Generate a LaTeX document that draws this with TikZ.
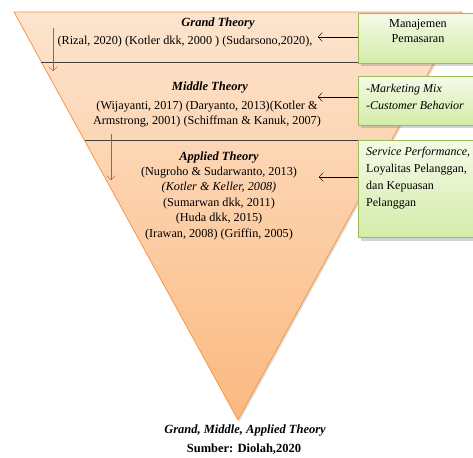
\documentclass[tikz,border=0pt]{standalone}
\usepackage{fontspec}
\setmainfont{Liberation Serif}
\usetikzlibrary{arrows.meta,shadows}

\definecolor{peachtop}{HTML}{FDE4CE}
\definecolor{peachbot}{HTML}{FBB980}
\definecolor{peachline}{HTML}{F79646}
\definecolor{greentop}{HTML}{F5FAE8}
\definecolor{greenbot}{HTML}{D3ECA8}
\definecolor{greenline}{HTML}{9BBB59}
\definecolor{redarrow}{HTML}{C0504D}
\definecolor{sepline}{HTML}{3F3F3F}

\tikzset{
	greenbox/.style = {draw = greenline, line width = 1pt, top color = greentop, bottom color = greenbot,
		drop shadow = {opacity = 0.35, shadow xshift = 2pt, shadow yshift = -3pt}},
	theory/.style = {font = \fontsize{12.5}{15}\selectfont\bfseries\itshape},
	reftext/.style = {align = center, inner sep = 0pt, font = \fontsize{12.2}{15.5}\selectfont},
	boxtext/.style = {align = left, inner sep = 0pt, anchor = north west, font = \fontsize{12}{17}\selectfont},
	blackarrow/.style = {-{Straight Barb[length = 4pt, width = 9pt]}, thin},
	redarr/.style = {-{Straight Barb[length = 4pt, width = 9pt]}, redarrow, thin},
}

\begin{document}
\begin{tikzpicture}[x = 1pt, y = -1pt]
	\useasboundingbox (0,0) rectangle (473,457);
	\coordinate[](tl) at (14,12) ;
	\coordinate[](tr) at (462,12) ;
	\coordinate[](apex) at (238,420) ;
	
	% triangle
	\path[top color = peachtop, bottom color = peachbot,
		drop shadow = {opacity = 0.25, shadow xshift = 1.5pt, shadow yshift = -1.5pt}]
		(tl) -- (tr) -- (apex) -- cycle;
	\draw[peachline, line width = 0.8pt, line join = round] (tl) -- (tr) -- (apex) -- cycle;
	
	\coordinate[](s1) at (41,62) ;
	\coordinate[](s2) at (85,140) ;
	\draw[sepline, line width = 0.9pt] (s1) -- (358,62);
	\draw[sepline, line width = 0.9pt] (s2) -- (358,140);
	
	% theory texts
	\node[theory] (grand) at (218,24) {Grand Theory};
	\node[reftext] (grandref) at (185,42) {(Rizal, 2020) (Kotler dkk, 2000 ) (Sudarsono,2020),};
	\node[theory] (middle) at (210,88) {Middle Theory};
	\node[reftext] (middleref) at (207,114) {(Wijayanti, 2017) (Daryanto, 2013)(Kotler \&\\Armstrong, 2001) (Schiffman \& Kanuk, 2007)};
	\node[theory] (applied) at (219,158) {Applied Theory};
	\node[reftext] (appliedref) at (219,203.5) {(Nugroho \& Sudarwanto, 2013)\\\textit{(Kotler \& Keller, 2008)}\\(Sumarwan dkk, 2011)\\(Huda dkk, 2015)\\(Irawan, 2008) (Griffin, 2005)};
	
	% green boxes
	\node[greenbox, anchor = north west, minimum width = 122pt, minimum height = 50pt] (mp) at (358,13) {};
	\node[greenbox, anchor = north west, minimum width = 122pt, minimum height = 49pt] (mix) at (358,76) {};
	\node[greenbox, anchor = north west, minimum width = 122pt, minimum height = 97pt] (sp) at (358,140) {};
	\node[reftext] (mptext) at (418,31) {Manajemen\\Pemasaran};
	\node[boxtext] (mixtext) at (366,84) {\textit{-Marketing Mix}\\\textit{-Customer Behavior}};
	\node[boxtext] (sptext) at (366,147) {\textit{Service Performance,}\\Loyalitas Pelanggan,\\dan Kepuasan\\Pelanggan};
	
	% arrows
	\coordinate[](ta) at (318,37) ;
	\coordinate[](tb) at (318,97) ;
	\coordinate[](tc) at (319,177) ;
	\draw[blackarrow] (mp.west |- ta) -- (ta);
	\draw[blackarrow] (mix.west |- tb) -- (tb);
	\draw[blackarrow] (sp.west |- tc) -- (tc);
	
	\coordinate[](r1) at (53,28) ;
	\coordinate[](r1e) at (53,71) ;
	\coordinate[](r2) at (111,134) ;
	\coordinate[](r2e) at (111,180) ;
	\draw[redarr] (r1) -- (r1e);
	\draw[redarr] (r2) -- (r2e);
	
	% caption
	\node[theory] (caption) at (245,431) {Grand, Middle, Applied Theory};
	\node[font = \fontsize{12.5}{15}\selectfont\bfseries] (source) at (244,449) {Sumber: Diolah,2020};
\end{tikzpicture}
\end{document}
